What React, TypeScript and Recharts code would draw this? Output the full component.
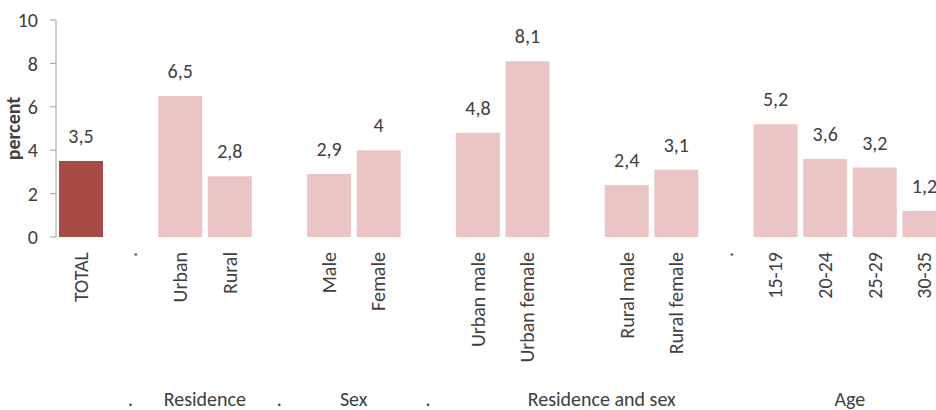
import React from "react";
import { BarChart, Bar, XAxis, YAxis, Cell, LabelList } from "recharts";

// ── Data ────────────────────────────────────────────────

const categories = [
  "TOTAL", ".", "Urban", "Rural", "", "Male", "Female", "",
  "Urban male", "Urban female", "", "Rural male", "Rural female", ".",
  "15-19", "20-24", "25-29", "30-35",
];

const values: (number | null)[] = [
  3.5, null, 6.5, 2.8, null, 2.9, 4, null,
  4.8, 8.1, null, 2.4, 3.1, null,
  5.2, 3.6, 3.2, 1.2,
];

// group captions under the category labels, placed at category index
const groupLabels = [".", "Residence", ".", "Sex", ".", "Residence and sex", "Age"];
const groupCenters = [1, 2.5, 4, 5.5, 7, 10.5, 15.5];

const yTicks = [0, 2, 4, 6, 8, 10];

const data = categories.map((name, idx) => ({ idx, name, value: values[idx] }));

// ── Styles ──────────────────────────────────────────────

const FONT = "Carlito, Calibri, Lato, sans-serif";
const FONT_SIZE = 20;
const TEXT = "#404040";
const TOTAL_COLOR = "#A84A45";
const BAR_COLOR = "#EBC5C5";
const AXIS_COLOR = "#A0A0A0";

const fmt = (v: any) => (v == null ? "" : String(v).replace(".", ","));

function CategoryTick({ x, y, payload }: any) {
  const ty = y + 15;
  return (
    <text
      x={x}
      y={ty}
      dy={7}
      transform={`rotate(-90 ${x} ${ty})`}
      textAnchor="end"
      fontFamily={FONT}
      fontSize={FONT_SIZE}
      fill={TEXT}
    >
      {categories[payload.value]}
    </text>
  );
}

function GroupTick({ x, y, payload }: any) {
  const i = groupCenters.indexOf(payload.value);
  return (
    <text
      x={x}
      y={y + 29}
      textAnchor="middle"
      fontFamily={FONT}
      fontSize={FONT_SIZE}
      fill={TEXT}
    >
      {groupLabels[i]}
    </text>
  );
}

function YLabel({ viewBox }: any) {
  const cx = 20;
  const cy = viewBox.y + viewBox.height / 2;
  return (
    <text
      x={cx}
      y={cy}
      transform={`rotate(-90 ${cx} ${cy})`}
      textAnchor="middle"
      fontFamily={FONT}
      fontSize={FONT_SIZE}
      fontWeight="bold"
      fill={TEXT}
    >
      percent
    </text>
  );
}

export default function App() {
  return (
    <div
      style={{
        width: 936,
        height: 410,
        overflow: "hidden",
        background: "#fff",
      }}
    >
      <style>{"body{margin:0}"}</style>
      <BarChart
        width={960}
        height={410}
        data={data}
        margin={{ top: 20, right: 11, left: 0, bottom: 0 }}
        barCategoryGap={3}
      >
        <XAxis
          dataKey="idx"
          type="category"
          height={140}
          axisLine={false}
          tickLine={false}
          tickSize={0}
          tickMargin={0}
          interval={0}
          tick={<CategoryTick />}
        />
        <XAxis
          xAxisId="grp"
          dataKey="idx"
          type="number"
          domain={[-0.5, 17.5]}
          ticks={groupCenters}
          height={33}
          axisLine={false}
          tickLine={false}
          tickSize={0}
          tickMargin={0}
          interval={0}
          tick={<GroupTick />}
        />
        <YAxis
          width={56}
          domain={[0, 10]}
          ticks={yTicks}
          interval={0}
          axisLine={{ stroke: AXIS_COLOR }}
          tickLine={{ stroke: AXIS_COLOR }}
          tickSize={6}
          tickMargin={12}
          tick={{ fontFamily: FONT, fontSize: FONT_SIZE, fill: TEXT }}
          label={<YLabel />}
        />
        <Bar dataKey="value" isAnimationActive={false}>
          {data.map((d, i) => (
            <Cell key={i} fill={i === 0 ? TOTAL_COLOR : BAR_COLOR} />
          ))}
          <LabelList
            dataKey="value"
            position="top"
            offset={18}
            formatter={fmt}
            style={{ fontFamily: FONT, fontSize: FONT_SIZE, fill: TEXT }}
          />
        </Bar>
      </BarChart>
    </div>
  );
}
